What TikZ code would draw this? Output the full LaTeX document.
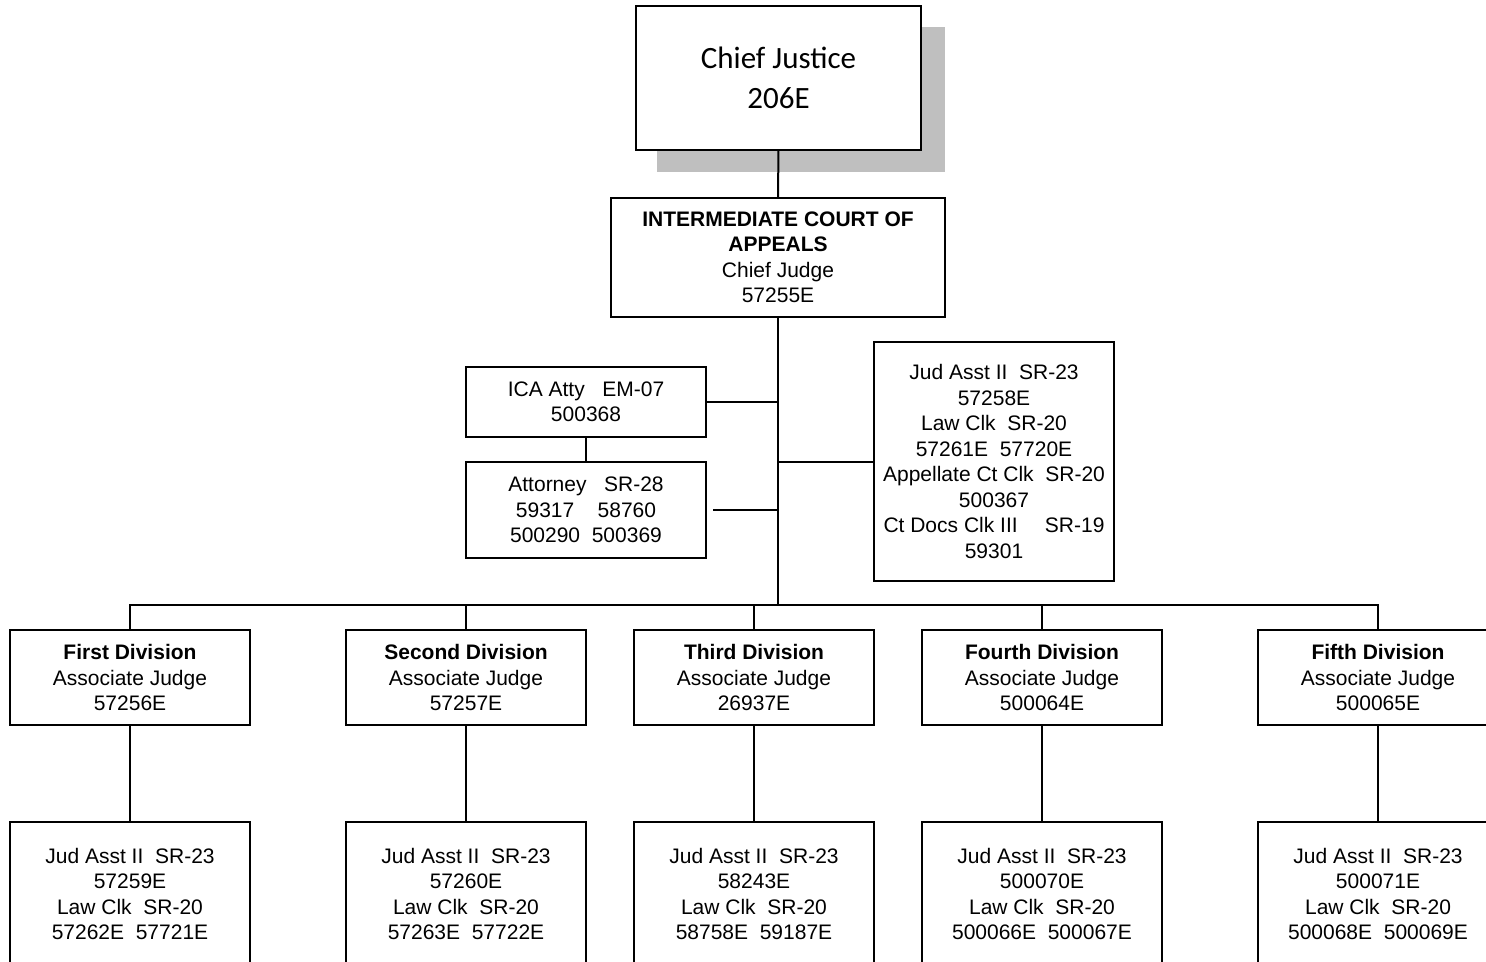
\documentclass[tikz,border=0pt]{standalone}
\usepackage{fontspec}
\setmainfont{Liberation Sans}
\newfontfamily\calibri{Carlito}
\usetikzlibrary{positioning,calc}
\tikzset{
    x=0.5pt,
    y=-0.5pt,
    box/.style = {
        draw,
        shape=rectangle,
        fill=white,
        line width=1pt,
        align=center,
        inner sep=0pt,
        font=\fontsize{10.5}{12.75}\selectfont
    },
    topbox/.style = {
        box,
        minimum width=142.5pt,
        minimum height=72pt,
        font=\calibri\fontsize{15.5}{20}\selectfont
    },
    divbox/.style = {
        box,
        minimum width=120pt,
        minimum height=47.5pt
    },
    staffbox/.style = {
        box,
        minimum width=120pt,
        minimum height=72pt
    },
    link/.style = {
        draw,
        line width=1pt
    },
}

\begin{document}
\begin{tikzpicture}
            \useasboundingbox (0,0) rectangle (1486,962);
            \clip (0,0) rectangle (1486,962);

            % chief justice with its shadow
            \fill[gray!50] (657,27) rectangle (945,172);
            \node[topbox] (cj) at (778.5,78) {Chief Justice\\206E};

            \node[box, minimum width=167pt, minimum height=59.5pt] (ica) at (778,257.5)
                {\textbf{INTERMEDIATE COURT OF}\\\textbf{APPEALS}\\Chief Judge\\57255E};
            \coordinate (bus) at (778,605);

            \node[box, minimum width=120pt, minimum height=35pt] (icaatty) at (586,402)
                {ICA Atty\ \ \ EM-07\\500368};
            \node[box, minimum width=120pt, minimum height=48pt] (atty) at (586,510)
                {Attorney\ \ \ SR-28\\59317\ \ \ \ 58760\\500290\ \ 500369};
            \node[box, minimum width=120pt, minimum height=119.5pt] (staff) at (994,461.5)
                {Jud Asst II\ \ SR-23\\57258E\\Law Clk\ \ SR-20\\57261E\ \ 57720E\\
                 Appellate Ct Clk\ \ SR-20\\500367\\Ct Docs Clk III\hspace{1.3em}SR-19\\59301};

            % divisions
            \node[divbox] (div1) at (130,677.5) {\textbf{First Division}\\Associate Judge\\57256E};
            \node[divbox] (div2) at (466,677.5) {\textbf{Second Division}\\Associate Judge\\57257E};
            \node[divbox] (div3) at (754,677.5) {\textbf{Third Division}\\Associate Judge\\26937E};
            \node[divbox] (div4) at (1042,677.5) {\textbf{Fourth Division}\\Associate Judge\\500064E};
            \node[divbox] (div5) at (1378,677.5) {\textbf{Fifth Division}\\Associate Judge\\500065E};

            \node[staffbox] (st1) at (130,894) {Jud Asst II\ \ SR-23\\57259E\\Law Clk\ \ SR-20\\57262E\ \ 57721E};
            \node[staffbox] (st2) at (466,894) {Jud Asst II\ \ SR-23\\57260E\\Law Clk\ \ SR-20\\57263E\ \ 57722E};
            \node[staffbox] (st3) at (754,894) {Jud Asst II\ \ SR-23\\58243E\\Law Clk\ \ SR-20\\58758E\ \ 59187E};
            \node[staffbox] (st4) at (1042,894) {Jud Asst II\ \ SR-23\\500070E\\Law Clk\ \ SR-20\\500066E\ \ 500067E};
            \node[staffbox] (st5) at (1378,894) {Jud Asst II\ \ SR-23\\500071E\\Law Clk\ \ SR-20\\500068E\ \ 500069E};

            \path[link] (cj) -- (ica);
            \path[link] (ica) -- (bus);
            \path[link] (icaatty) -- (icaatty -| bus);
            \path[link] ([xshift=3pt]atty.east) -- (atty -| bus);
            \path[link] (icaatty) -- (atty);
            \path[link] (staff) -- (staff -| bus);

            \path[link] (div1.north) |- (bus) -| (div5.north);
            \path[link] (div2.north) -- (div2.north |- bus);
            \path[link] (div3.north) -- (div3.north |- bus);
            \path[link] (div4.north) -- (div4.north |- bus);

            \path[link] (div1) -- (st1);
            \path[link] (div2) -- (st2);
            \path[link] (div3) -- (st3);
            \path[link] (div4) -- (st4);
            \path[link] (div5) -- (st5);
        \end{tikzpicture}
\end{document}
